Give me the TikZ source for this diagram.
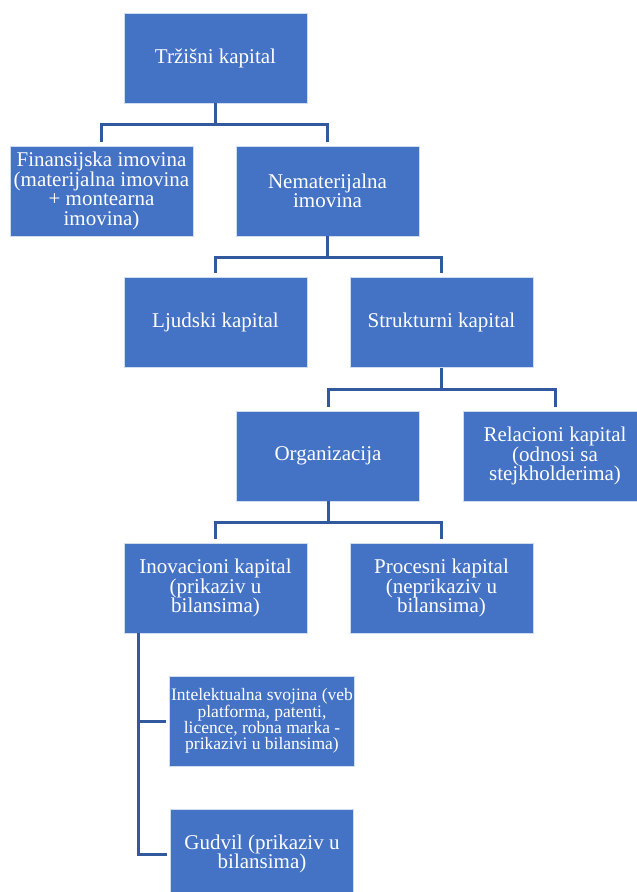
\documentclass[tikz,border=0pt]{standalone}
\usepackage{fontspec}
\setmainfont{Liberation Serif}
\begin{document}
\begin{tikzpicture}[x=1pt,y=-1pt,
  box/.style={rectangle, fill=boxblue, draw=white!75!boxblue, line width=0.8pt,
    minimum width=183pt, minimum height=90pt, inner sep=2pt, text=white,
    align=center, font=\fontsize{21}{19.5}\selectfont},
  smallbox/.style={box, font=\fontsize{17.5}{16}\selectfont},
  conn/.style={draw=connblue, line width=3pt}]
\definecolor{boxblue}{RGB}{68,114,196}
\definecolor{connblue}{RGB}{50,88,158}
\useasboundingbox (0,0) rectangle (637,892);
\node[box] (top) at (215.5,58) {Tržišni kapital};
\node[box] (fin) at (101.5,191) {Finansijska imovina\\(materijalna imovina\\+ montearna\\imovina)};
\node[box] (nem) at (327.5,191) {Nematerijalna\\imovina};
\node[box] (ljud) at (215.5,322.5) {Ljudski kapital};
\node[box] (struk) at (441.5,322.5) {Strukturni kapital};
\node[box] (org) at (328,456) {Organizacija};
\node[box] (rel) at (555,456) {Relacioni kapital\\(odnosi sa\\stejkholderima)};
\node[box] (inov) at (215.5,588) {Inovacioni kapital\\(prikaziv u\\bilansima)};
\node[box] (proc) at (441.5,588) {Procesni kapital\\(neprikaziv u\\bilansima)};
\node[smallbox] (intel) at (262,721) {Intelektualna svojina (veb\\platforma, patenti,\\licence, robna marka -\\prikazivi u bilansima)};
\node[box] (gud) at (262,854) {Gudvil (prikaziv u\\bilansima)};
\foreach \p/\c in {top/fin, top/nem, nem/ljud, nem/struk, struk/org, struk/rel, org/inov, org/proc}{
  \draw[conn, shorten >=4pt] (\p.south) -- ++(0,21.5) -| (\c.north);
}
\draw[conn, shorten >=3pt] ([xshift=15pt]inov.south west) |- (intel.west);
\draw[conn, shorten >=3pt] ([xshift=15pt]inov.south west) |- (gud.west);
\end{tikzpicture}
\end{document}
